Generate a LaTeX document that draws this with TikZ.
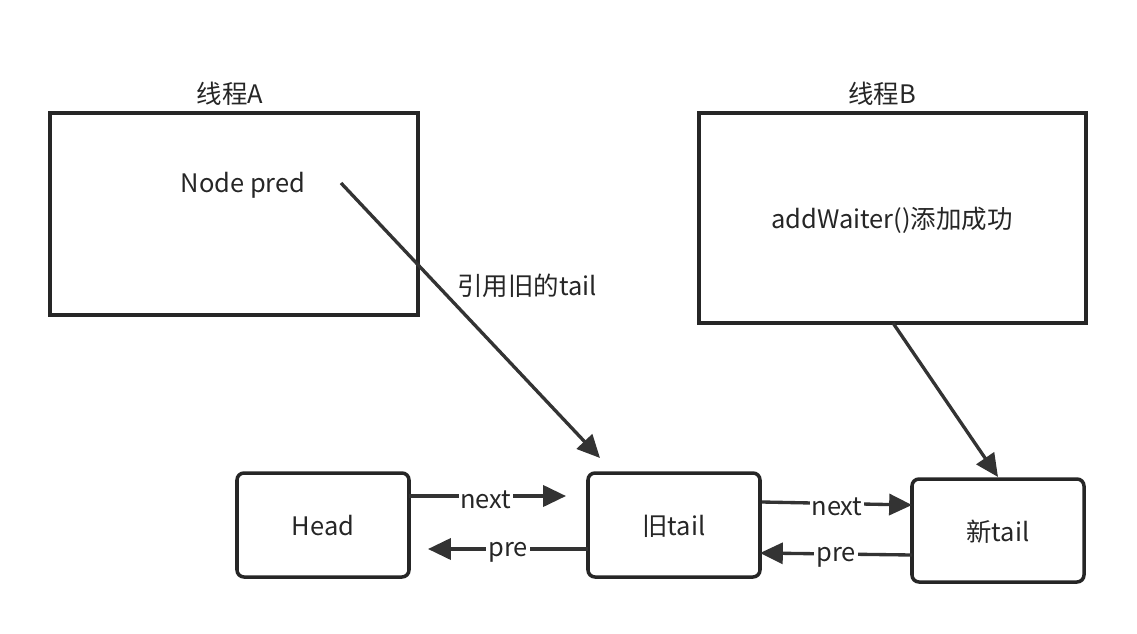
\documentclass[tikz,border=0pt]{standalone}
\usepackage{fontspec}
\setmainfont{Noto Sans CJK SC}
\usetikzlibrary{arrows.meta}
\begin{document}
\begin{tikzpicture}[x=0.02cm,y=-0.02cm,
  box/.style={draw=black!85,line width=2pt},
  nbox/.style={draw=black!85,line width=2pt,rounded corners=4pt},
  arr/.style={draw=black!80,line width=1.9pt,-{Triangle[length=13pt,width=12pt]}},
  lbl/.style={font=\fontsize{14.5}{16}\selectfont,text=black!85},
  elbl/.style={lbl,fill=white,inner sep=1pt,yshift=-2pt}]
\useasboundingbox (0,0) rectangle (1137,633);
\draw[box] (50,113) rectangle (418,315);
\node[lbl] (la) at (230,94) {线程A};
\node[lbl] (pred) at (243,185) {Node pred};
\draw[box] (699,113) rectangle (1086,323);
\coordinate (bb) at (893,323);
\node[lbl] (lb) at (882,94) {线程B};
\node[lbl] (aw) at (892,220) {addWaiter()添加成功};
\draw[nbox] (237,473) rectangle (409,577);
\node[lbl] (head) at (323,526) {Head};
\draw[nbox] (588,473) rectangle (760,577);
\node[lbl] (old) at (674,526) {旧tail};
\draw[nbox] (912,479) rectangle (1084,582);
\node[lbl] (new) at (998,532) {新tail};
\coordinate (p1) at (341,183); \coordinate (p2) at (600,458);
\draw[arr] (p1) -- (p2);
\node[lbl] (ref) at (527,286) {引用旧的tail};
\coordinate (b2) at (998,477);
\draw[arr] (bb) -- (b2);
\coordinate (n1) at (409,496); \coordinate (n2) at (566,496);
\draw[arr] (n1) -- (n2) node[elbl,pos=0.49] {next};
\coordinate (r1) at (588,549); \coordinate (r2) at (428,549);
\draw[arr] (r1) -- (r2) node[elbl,pos=0.5] {pre};
\coordinate (m1) at (762,502); \coordinate (m2) at (912,505);
\draw[arr] (m1) -- (m2) node[elbl,pos=0.5] {next};
\coordinate (q1) at (912,555); \coordinate (q2) at (760,553);
\draw[arr] (q1) -- (q2) node[elbl,pos=0.5] {pre};
\end{tikzpicture}
\end{document}
